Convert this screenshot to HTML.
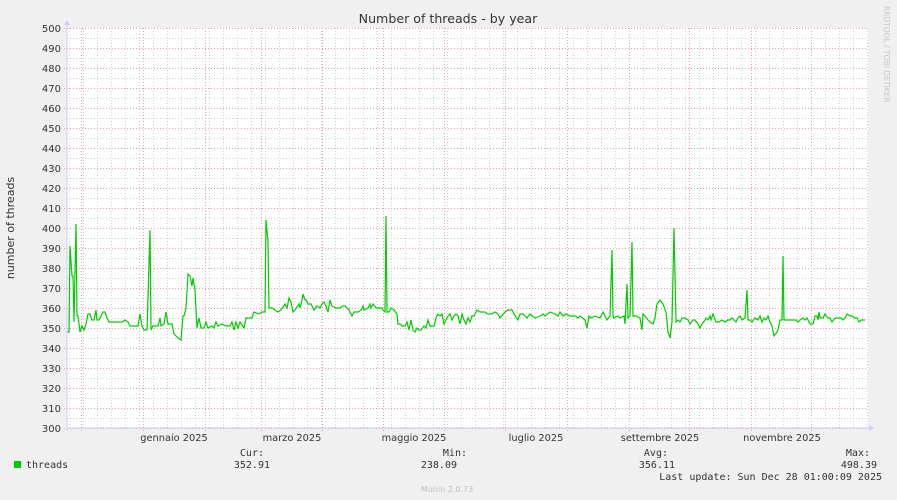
<!DOCTYPE html>
<html><head><meta charset="utf-8"><style>
html,body{margin:0;padding:0;background:#f0f0f0;}
svg{display:block;}
text{font-family:"DejaVu Sans","Liberation Sans",sans-serif;}
.m{font-family:"DejaVu Sans Mono","Liberation Mono",monospace;font-size:10px;fill:#333;}
</style></head><body>
<svg id="s" width="897" height="500" xmlns="http://www.w3.org/2000/svg">
<rect width="897" height="500" fill="#f0f0f0"/>
<rect x="67" y="28" width="801" height="400" fill="#fff"/>
<g id="grid"></g>
<text x="448" y="23" text-anchor="middle" font-size="12.6" fill="#333">Number of threads - by year</text>
<text transform="translate(14,228) rotate(-90)" text-anchor="middle" font-size="11" fill="#333">number of threads</text>
<text transform="translate(884,6) rotate(90)" font-size="7.5" fill="#c8c8c8">RRDTOOL / TOBI OETIKER</text>
<g id="yl" font-size="10" fill="#333" text-anchor="end"></g>
<g font-size="9.8" fill="#333" text-anchor="middle">
<text x="174" y="441">gennaio 2025</text>
<text x="292" y="441">marzo 2025</text>
<text x="414" y="441">maggio 2025</text>
<text x="536" y="441">luglio 2025</text>
<text x="660" y="441">settembre 2025</text>
<text x="782" y="441">novembre 2025</text>
</g>
<polyline id="ln" fill="none" stroke="#00cc00" stroke-width="1.2"/>
<line x1="67" y1="428" x2="870" y2="428" stroke="#ccf"/>
<line x1="67" y1="24" x2="67" y2="431" stroke="#ccf"/>
<path d="M869 425 L874 428 L869 431Z M64 25 L67 20 L70 25Z" fill="#ccf"/>
<rect x="14" y="461" width="7" height="7" fill="#00cc00"/>
<text class="m" x="26" y="468">threads</text>
<text class="m" x="264" y="456" text-anchor="end">Cur:</text>
<text class="m" x="270" y="468" text-anchor="end">352.91</text>
<text class="m" x="467" y="456" text-anchor="end">Min:</text>
<text class="m" x="457" y="468" text-anchor="end">238.09</text>
<text class="m" x="668" y="456" text-anchor="end">Avg:</text>
<text class="m" x="675" y="468" text-anchor="end">356.11</text>
<text class="m" x="870" y="456" text-anchor="end">Max:</text>
<text class="m" x="877" y="468" text-anchor="end">498.39</text>
<text class="m" x="882" y="480" text-anchor="end">Last update: Sun Dec 28 01:00:09 2025</text>
<text x="447" y="492" text-anchor="middle" font-size="8" fill="#c0c0c0">Munin 2.0.73</text>
</svg>
<script>
var ns="http://www.w3.org/2000/svg",g=document.getElementById('grid'),yl=document.getElementById('yl');
function L(x1,y1,x2,y2,c){var l=document.createElementNS(ns,'line');l.setAttribute('x1',x1);l.setAttribute('y1',y1);l.setAttribute('x2',x2);l.setAttribute('y2',y2);l.setAttribute('stroke',c);l.setAttribute('stroke-dasharray','1,2');g.appendChild(l);}
for(var x=69;x<868;x+=14)L(x+.5,28,x+.5,428,'#d0d0d0');
for(var v=305;v<500;v+=10){var y=428-(v-300)*2;L(67,y+.5,868,y+.5,'#d0d0d0');}
[81,143,205,261,322,383,444,505,567,629,689,751,811].forEach(function(x){L(x+.5,28,x+.5,431,'#e8a0a0');});
for(var v=300;v<=500;v+=10){var y=428-(v-300)*2;L(64,y+.5,868,y+.5,'#e8a0a0');var t=document.createElementNS(ns,'text');t.setAttribute('x',61);t.setAttribute('y',y+4);t.textContent=v;yl.appendChild(t);}
var d=[67,348,69,348,70,391,72,376,73,376,74,353,76,402,77,356,78,356,80,348,82,351,84,349,86,352,88,357,90,357,92,354,94,354,96,359,97,354,99,354,101,356,103,358,105,358,107,355,109,353,117,353,120,353,122,353,125,354,128,353,130,351,138,351,140,357,142,351,144,349,147,349,150,399,151,349,153,351,156,351,158,351,160,355,161,351,164,352,166,358,168,352,172,352,174,347,176,346,178,345,181,344,183,356,184,356,186,360,188,377,190,376,192,371,193,375,195,369,197,350,199,355,201,350,204,350,206,353,208,350,212,351,214,350,216,353,218,351,222,352,226,351,230,351,232,353,234,349,236,353,238,350,240,353,244,350,246,355,250,355,252,355,254,358,259,357,262,358,265,358,266,404,268,393,269,360,272,360,275,359,278,358,281,359,285,362,287,360,289,365,291,363,293,358,295,359,299,362,300,360,302,364,303,367,305,364,306,364,308,362,311,362,314,359,317,361,320,360,322,362,324,363,326,361,328,358,330,364,332,361,336,360,340,360,343,361,345,361,349,359,352,356,354,358,356,358,358,358,361,359,363,361,364,359,368,360,370,362,371,360,373,362,376,360,378,360,382,360,383,359,385,358,386,406,387,358,389,358,391,360,394,359,397,357,398,352,400,352,402,351,405,351,407,353,409,349,411,354,413,349,415,348,417,350,419,349,421,349,424,351,426,350,428,354,430,351,432,351,434,351,436,355,438,357,440,356,442,357,444,352,446,354,448,356,450,357,452,354,454,356,456,357,458,356,460,352,462,357,464,354,466,352,468,355,470,353,472,356,474,356,477,359,480,358,485,358,488,357,492,357,495,358,498,357,500,355,505,358,508,359,512,359,514,357,518,354,520,357,523,357,527,355,530,357,535,355,540,356,543,357,545,356,550,358,555,357,558,356,560,358,563,356,566,357,570,356,575,356,578,355,580,356,585,354,587,350,589,356,591,355,595,356,600,355,603,358,605,356,607,354,610,356,612,389,613,356,614,355,618,356,620,355,624,356,625,352,627,372,628,355,630,356,632,393,633,356,636,356,640,355,642,349,643,357,645,356,648,354,650,353,653,352,655,355,657,362,660,364,663,362,666,358,668,348,670,345,672,353,674,400,676,353,678,354,680,353,682,355,685,355,688,354,690,352,693,354,695,354,698,352,700,350,702,352,705,354,706,355,708,354,710,356,711,354,713,357,716,353,719,353,722,354,725,353,728,354,730,354,732,355,734,354,736,353,738,355,740,356,742,354,745,355,747,369,748,354,750,354,752,353,755,355,758,354,760,356,762,353,764,355,766,354,768,356,770,353,772,351,774,346,777,348,778,349,780,354,782,354,783,386,784,354,787,354,790,354,793,354,796,354,798,353,800,354,803,355,805,354,807,355,810,352,813,352,815,356,817,356,818,354,819,358,820,355,823,355,825,357,828,355,830,355,832,353,835,355,838,355,841,355,843,354,845,355,847,357,850,356,852,356,855,355,857,355,859,353,861,354,865,354];
var p=[];for(var i=0;i<d.length;i+=2)p.push(d[i]+','+(428-(d[i+1]-300)*2));
document.getElementById('ln').setAttribute('points',p.join(' '));
</script>
</body></html>
